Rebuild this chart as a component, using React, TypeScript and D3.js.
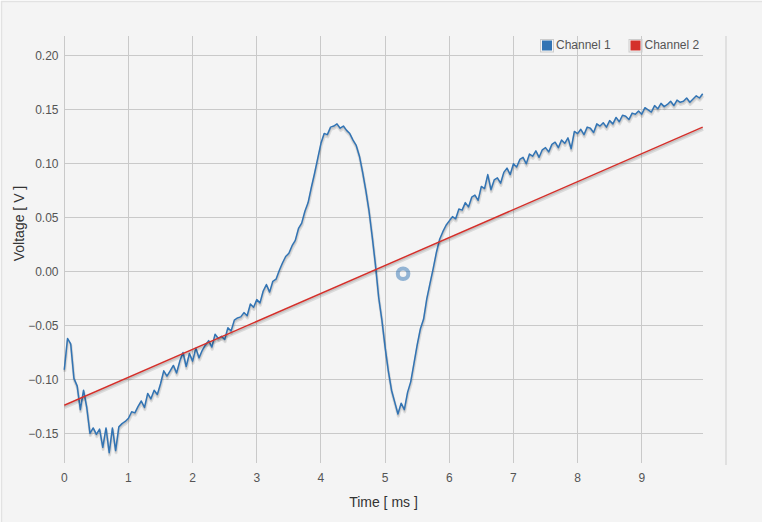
import React from "react";
import * as d3 from "d3";

// Channel 1 samples: start at 0 ms, one sample every 0.05 ms (10 per row = 0.5 ms)
const sampleStart = 0;
const sampleStep = 0.05;
const channel1: number[] = [
  -0.091, -0.062, -0.067, -0.099, -0.106, -0.128, -0.110, -0.126, -0.150, -0.145,
  -0.151, -0.146, -0.163, -0.145, -0.168, -0.145, -0.166, -0.144, -0.141, -0.139,
  -0.136, -0.130, -0.131, -0.125, -0.120, -0.126, -0.113, -0.118, -0.110, -0.114,
  -0.104, -0.092, -0.097, -0.092, -0.087, -0.094, -0.083, -0.075, -0.088, -0.076,
  -0.083, -0.071, -0.080, -0.073, -0.068, -0.064, -0.070, -0.058, -0.062, -0.060,
  -0.063, -0.052, -0.055, -0.045, -0.043, -0.042, -0.038, -0.041, -0.030, -0.033,
  -0.026, -0.029, -0.018, -0.012, -0.019, -0.009, -0.007, 0.001, 0.008, 0.014,
  0.017, 0.024, 0.029, 0.040, 0.045, 0.056, 0.064, 0.078, 0.091, 0.105,
  0.119, 0.128, 0.127, 0.134, 0.135, 0.137, 0.133, 0.135, 0.131, 0.128,
  0.122, 0.117, 0.107, 0.092, 0.075, 0.056, 0.032, 0.006, -0.024, -0.045,
  -0.070, -0.092, -0.110, -0.121, -0.132, -0.122, -0.128, -0.112, -0.102, -0.085,
  -0.068, -0.053, -0.044, -0.025, -0.011, 0.003, 0.018, 0.030, 0.037, 0.043,
  0.047, 0.051, 0.049, 0.058, 0.057, 0.064, 0.060, 0.069, 0.071, 0.066,
  0.079, 0.077, 0.090, 0.076, 0.085, 0.087, 0.082, 0.092, 0.096, 0.090,
  0.100, 0.097, 0.104, 0.106, 0.100, 0.109, 0.107, 0.112, 0.106, 0.113,
  0.115, 0.111, 0.118, 0.120, 0.115, 0.122, 0.119, 0.124, 0.114, 0.130,
  0.128, 0.132, 0.127, 0.134, 0.133, 0.129, 0.137, 0.135, 0.138, 0.134,
  0.140, 0.137, 0.143, 0.139, 0.145, 0.144, 0.141, 0.147, 0.146, 0.149,
  0.146, 0.152, 0.150, 0.148, 0.154, 0.151, 0.156, 0.153, 0.155, 0.158,
  0.154, 0.159, 0.157, 0.158, 0.161, 0.157, 0.160, 0.163, 0.161, 0.165,
];

const channel2Time: number[] = [0, 9.95];
const channel2: number[] = [-0.124, 0.134];

const highlightPoint: [number, number] = [5.28, -0.002];

const xTicks: number[] = [0, 1, 2, 3, 4, 5, 6, 7, 8, 9];
const yTicks: number[] = [-0.15, -0.1, -0.05, 0, 0.05, 0.1, 0.15, 0.2];
const seriesNames: string[] = ["Channel 1", "Channel 2"];
const seriesColors: string[] = ["#3274b4", "#d4302b"];

const FONT = '"Liberation Sans", Arial, Helvetica, sans-serif';

export default function App() {
  const W = 762;
  const H = 522;
  const left = 64.3;
  const right = 702.7;
  const top = 36;
  const bottom = 463;

  const x = d3.scaleLinear().domain([0, 9.95]).range([left, right]);
  const y = d3.scaleLinear().domain([-0.1775, 0.2185]).range([bottom, top]);

  const ch1Pts: [number, number][] = channel1.map((v, i) => [sampleStart + i * sampleStep, v]);
  const ch2Pts: [number, number][] = channel2.map((v, i) => [channel2Time[i], v]);

  const lineGen = (dx: number, dy: number) =>
    d3
      .line<[number, number]>()
      .x((d) => x(d[0]) + dx)
      .y((d) => y(d[1]) + dy);

  const lw = 1.5;
  const sw = 3;
  const ang = Math.PI / 18;
  const o1 = lw / 2 + sw / 2;
  const o2 = lw / 2 + sw / 4;

  const renderSeries = (pts: [number, number][], color: string, key: string) => (
    <g key={key}>
      <path
        d={lineGen(Math.sin(ang) * o1, Math.cos(ang) * o1)(pts) || ""}
        fill="none"
        stroke="rgba(0,0,0,0.1)"
        strokeWidth={sw}
        strokeLinejoin="round"
      />
      <path
        d={lineGen(Math.sin(ang) * o2, Math.cos(ang) * o2)(pts) || ""}
        fill="none"
        stroke="rgba(0,0,0,0.1)"
        strokeWidth={sw / 2}
        strokeLinejoin="round"
      />
      <path
        d={lineGen(0, 0)(pts) || ""}
        fill="none"
        stroke={color}
        strokeWidth={lw}
        strokeLinejoin="round"
      />
    </g>
  );

  const fmtY = d3.format(".2f");
  const legendX = [540.5, 629];

  return (
    <div style={{ position: "absolute", left: 0, top: 0 }}>
      <style>{`body{margin:0}`}</style>
      <svg width={W} height={H} style={{ display: "block" }} fontFamily={FONT}>
        <rect x={0} y={0} width={W} height={H} fill="#ffffff" />
        <rect x={1.5} y={1.5} width={W + 10} height={H + 10} fill="#f4f4f4" stroke="#e2e2e2" strokeWidth={1.5} />

        {/* grid */}
        <g stroke="#c9c9c9" strokeWidth={1} shapeRendering="crispEdges">
          {xTicks.map((t) => (
            <line key={"gx" + t} x1={x(t)} x2={x(t)} y1={top} y2={bottom} />
          ))}
          {yTicks.map((t) => (
            <line key={"gy" + t} x1={left} x2={right} y1={y(t)} y2={y(t)} />
          ))}
        </g>

        {/* right side rule */}
        <line x1={726} x2={726} y1={top} y2={465} stroke="#e0e0e0" strokeWidth={2} />

        {/* tick labels */}
        <g fontSize={12} fill="#545454">
          {yTicks.map((t) => (
            <text key={"ty" + t} x={58.5} y={y(t) + 4.3} textAnchor="end">
              {fmtY(t)}
            </text>
          ))}
          {xTicks.map((t) => (
            <text key={"tx" + t} x={x(t)} y={482} textAnchor="middle">
              {t}
            </text>
          ))}
        </g>

        {/* axis titles */}
        <text x={383.5} y={507} fontSize={14} fill="#333" textAnchor="middle">
          Time [ ms ]
        </text>
        <text
          transform="translate(24,223.5) rotate(-90)"
          fontSize={14}
          fill="#333"
          textAnchor="middle"
        >
          Voltage [ V ]
        </text>

        {/* series */}
        {renderSeries(ch1Pts, seriesColors[0], "s1")}
        {renderSeries(ch2Pts, seriesColors[1], "s2")}

        {/* highlight */}
        <circle
          cx={x(highlightPoint[0])}
          cy={y(highlightPoint[1])}
          r={5.3}
          fill="none"
          stroke={seriesColors[0]}
          strokeOpacity={0.5}
          strokeWidth={4}
        />

        {/* legend */}
        <g fontSize={12} fill="#545454">
          {seriesNames.map((name, i) => (
            <g key={name}>
              <rect x={legendX[i]} y={39.5} width={13} height={12.5} fill="none" stroke="#cccccc" strokeWidth={1} />
              <rect x={legendX[i] + 1.5} y={40.5} width={10} height={10} fill={seriesColors[i]} />
              <text x={legendX[i] + 15.5} y={49}>
                {name}
              </text>
            </g>
          ))}
        </g>
      </svg>
    </div>
  );
}
